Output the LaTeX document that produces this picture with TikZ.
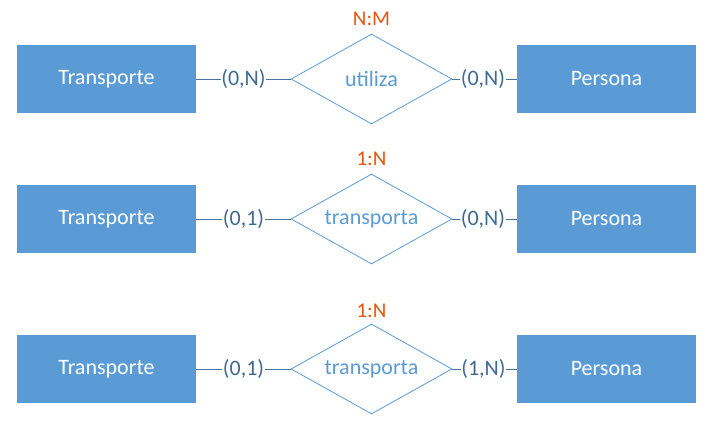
\documentclass[tikz,border=0pt]{standalone}
\usepackage{fontspec}
\setmainfont{Carlito}
\usetikzlibrary{shapes.geometric}
\definecolor{entblue}{RGB}{91,155,213}
\definecolor{cardblue}{RGB}{65,105,145}
\definecolor{relorange}{RGB}{230,85,13}
\tikzset{
  entity/.style={rectangle, fill=entblue, text=white, minimum width=179pt, minimum height=68pt, inner sep=0pt, font=\fontsize{22}{26}\selectfont},
  relation/.style={diamond, draw=entblue, line width=0.8pt, fill=white, minimum width=161pt, minimum height=90pt, inner sep=0pt},
  reltext/.style={text=entblue, inner sep=0pt, font=\fontsize{22}{26}\selectfont},
  card/.style={text=cardblue, inner sep=0.5pt, font=\fontsize{22}{26}\selectfont},
  ratio/.style={text=relorange, inner sep=0pt, font=\fontsize{21}{25}\selectfont},
  conn/.style={draw=cardblue!80!entblue, line width=0.8pt}
}
\begin{document}
\begin{tikzpicture}[x=1pt,y=1pt]
\useasboundingbox (0,0) rectangle (712,427);
% Row 1
\node[entity] (t1) at (106.5,348) {Transporte};
\node[entity] (p1) at (606.5,348) {Persona};
\node[relation] (r1) at (371.5,348) {};
\node[reltext] (n1) at (r1.center) {utiliza};
\node[card] (l1) at (243.5,348) {(0,N)};
\node[card] (c1) at (483,348) {(0,N)};
\node[ratio] (m1) at (371.5,408) {N:M};
\draw[conn] (t1.east) -- (l1.west);
\draw[conn] (l1.east) -- (r1.west);
\draw[conn] (r1.east) -- (c1.west);
\draw[conn] (c1.east) -- (p1.west);
% Row 2
\node[entity] (t2) at (106.5,208) {Transporte};
\node[entity] (p2) at (606.5,208) {Persona};
\node[relation] (r2) at (371.5,208) {};
\node[reltext] (n2) at (r2.center) {transporta};
\node[card] (l2) at (243.5,208) {(0,1)};
\node[card] (c2) at (483,208) {(0,N)};
\node[ratio] (m2) at (371.5,268) {1:N};
\draw[conn] (t2.east) -- (l2.west);
\draw[conn] (l2.east) -- (r2.west);
\draw[conn] (r2.east) -- (c2.west);
\draw[conn] (c2.east) -- (p2.west);
% Row 3
\node[entity] (t3) at (106.5,58) {Transporte};
\node[entity] (p3) at (606.5,58) {Persona};
\node[relation] (r3) at (371.5,58) {};
\node[reltext] (n3) at (r3.center) {transporta};
\node[card] (l3) at (243.5,58) {(0,1)};
\node[card] (c3) at (483.5,58) {(1,N)};
\node[ratio] (m3) at (371.5,116.5) {1:N};
\draw[conn] (t3.east) -- (l3.west);
\draw[conn] (l3.east) -- (r3.west);
\draw[conn] (r3.east) -- (c3.west);
\draw[conn] (c3.east) -- (p3.west);
\end{tikzpicture}
\end{document}
